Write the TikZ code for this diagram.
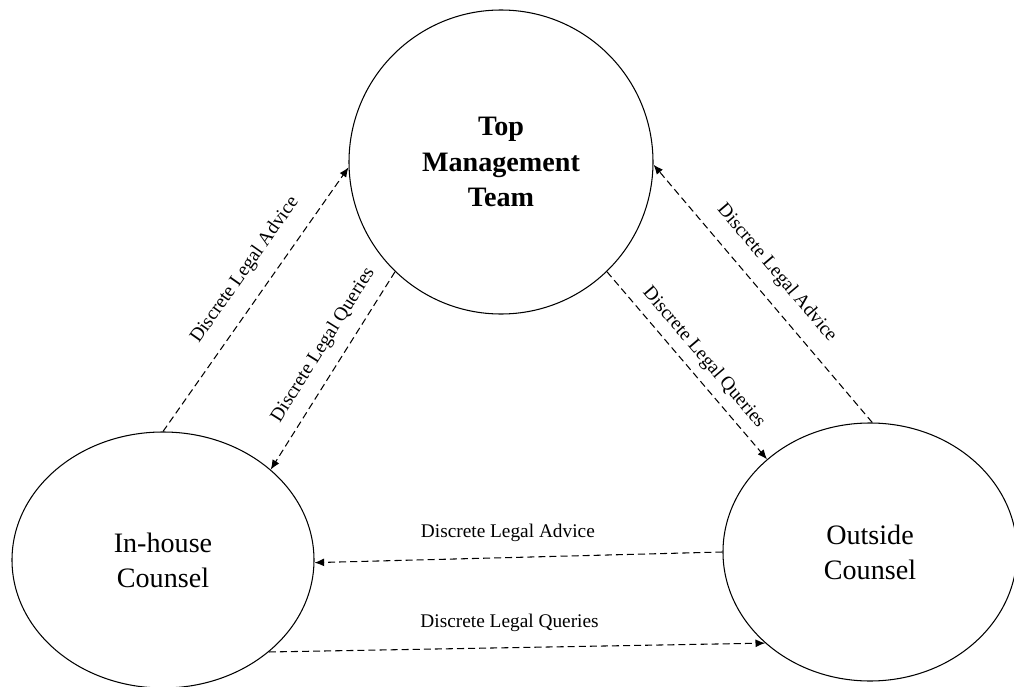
\documentclass[tikz,border=0pt]{standalone}
\usepackage{fontspec}
\setmainfont{Liberation Serif}
\usetikzlibrary{shapes.geometric,arrows.meta}

\tikzstyle{party} = [draw, line width=0.6pt, inner sep=0pt, align=center, font=\fontsize{16}{20}\selectfont]
\tikzstyle{flow} = [draw, line width=0.6pt, dash pattern=on 4pt off 2.3pt, -{Latex[length=5.5pt,width=4.5pt]}]
\tikzstyle{tag} = [font=\fontsize{11}{13}\selectfont, inner sep=1pt]

\begin{document}
\begin{tikzpicture}
\useasboundingbox (0,0) rectangle (20.28,-13.74);
%parties
\node[party, circle, minimum size=6.08cm, font=\fontsize{16}{20}\selectfont\bfseries] (tmt) at (10.02,-3.24) {Top\\Management\\Team};
\node[party, ellipse, minimum width=6.04cm, minimum height=5.12cm] (inhouse) at (3.26,-11.2) {In-house\\Counsel};
\node[party, ellipse, minimum width=5.88cm, minimum height=5.16cm] (outside) at (17.4,-11.04) {Outside\\Counsel};

%in-house and top
\draw[flow] (inhouse.north) -- (tmt.182) node[tag, sloped, above=8.3pt, pos=0.555] {Discrete Legal Advice};
\draw[flow] (tmt.226) -- (inhouse.40) node[tag, sloped, above=6pt, pos=0.43] {Discrete Legal Queries};
%outside and top
\draw[flow] (tmt.314) -- (outside.138) node[tag, sloped, above=3.8pt, pos=0.52] {Discrete Legal Queries};
\draw[flow] (outside.89) -- (tmt.359) node[tag, sloped, above=7.2pt, pos=0.52] {Discrete Legal Advice};
%outside and in-house
\draw[flow] (outside.180) -- (inhouse.359) node[tag, above=8pt, pos=0.526] {Discrete Legal Advice};
\draw[flow] (inhouse.319) -- (outside.221) node[tag, above=8pt, pos=0.485] {Discrete Legal Queries};
\end{tikzpicture}
\end{document}
